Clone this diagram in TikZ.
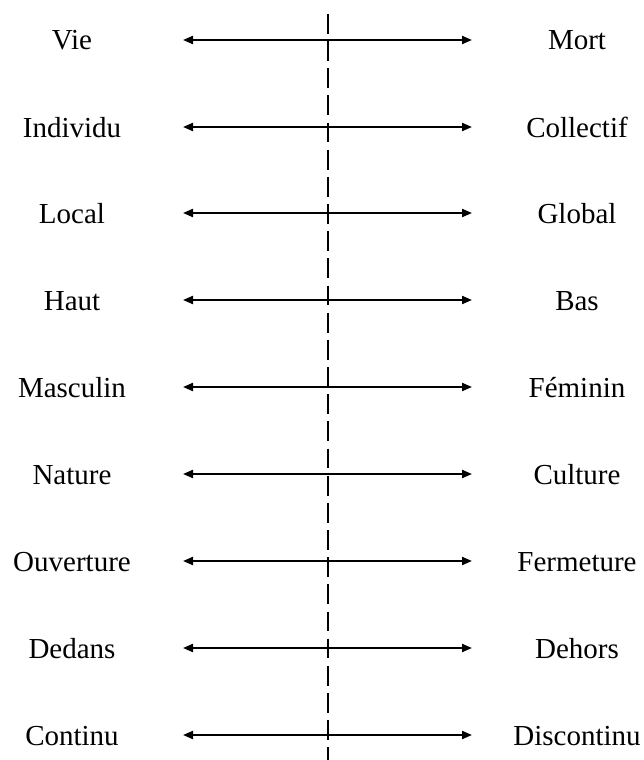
\documentclass[tikz,border=0pt]{standalone}
\usepackage{fontspec}
\setmainfont{Liberation Serif}
\usepackage{tikz}
\usetikzlibrary{arrows.meta}

\tikzset{
  pole/.style={font=\fontsize{29}{34}\selectfont, anchor=base, yshift=-10pt, inner sep=0pt},
  axe/.style={{Triangle[length=10pt,width=8pt]}-{Triangle[length=10pt,width=8pt]}, line width=2pt},
  partage/.style={line width=2pt, dash pattern=on 19.8pt off 7.36pt}
}

\begin{document}
\begin{tikzpicture}[x=1pt,y=-1pt]
  \useasboundingbox (0,0) rectangle (643,760);

  \coordinate (haut) at (328,14);
  \coordinate (bas) at (328,760);
  \draw [partage] (haut) -- (bas);

  \node [pole] (vie) at (72,40) {Vie};
  \node [pole] (mort) at (577,40) {Mort};
  \coordinate (g1) at (183,40);
  \coordinate (d1) at (472,40);
  \draw [axe] (g1) -- (d1);

  \node [pole] (individu) at (72,127) {Individu};
  \node [pole] (collectif) at (577,127) {Collectif};
  \coordinate (g2) at (183,127);
  \coordinate (d2) at (472,127);
  \draw [axe] (g2) -- (d2);

  \node [pole] (local) at (72,213) {Local};
  \node [pole] (global) at (577,213) {Global};
  \coordinate (g3) at (183,213);
  \coordinate (d3) at (472,213);
  \draw [axe] (g3) -- (d3);

  \node [pole] (hautp) at (72,300) {Haut};
  \node [pole] (basp) at (577,300) {Bas};
  \coordinate (g4) at (183,300);
  \coordinate (d4) at (472,300);
  \draw [axe] (g4) -- (d4);

  \node [pole] (masculin) at (72,387) {Masculin};
  \node [pole] (feminin) at (577,387) {Féminin};
  \coordinate (g5) at (183,387);
  \coordinate (d5) at (472,387);
  \draw [axe] (g5) -- (d5);

  \node [pole] (nature) at (72,474) {Nature};
  \node [pole] (culture) at (577,474) {Culture};
  \coordinate (g6) at (183,474);
  \coordinate (d6) at (472,474);
  \draw [axe] (g6) -- (d6);

  \node [pole] (ouverture) at (72,561) {Ouverture};
  \node [pole] (fermeture) at (577,561) {Fermeture};
  \coordinate (g7) at (183,561);
  \coordinate (d7) at (472,561);
  \draw [axe] (g7) -- (d7);

  \node [pole] (dedans) at (72,648) {Dedans};
  \node [pole] (dehors) at (577,648) {Dehors};
  \coordinate (g8) at (183,648);
  \coordinate (d8) at (472,648);
  \draw [axe] (g8) -- (d8);

  \node [pole] (continu) at (72,735) {Continu};
  \node [pole] (discontinu) at (577,735) {Discontinu};
  \coordinate (g9) at (183,735);
  \coordinate (d9) at (472,735);
  \draw [axe] (g9) -- (d9);
\end{tikzpicture}
\end{document}
